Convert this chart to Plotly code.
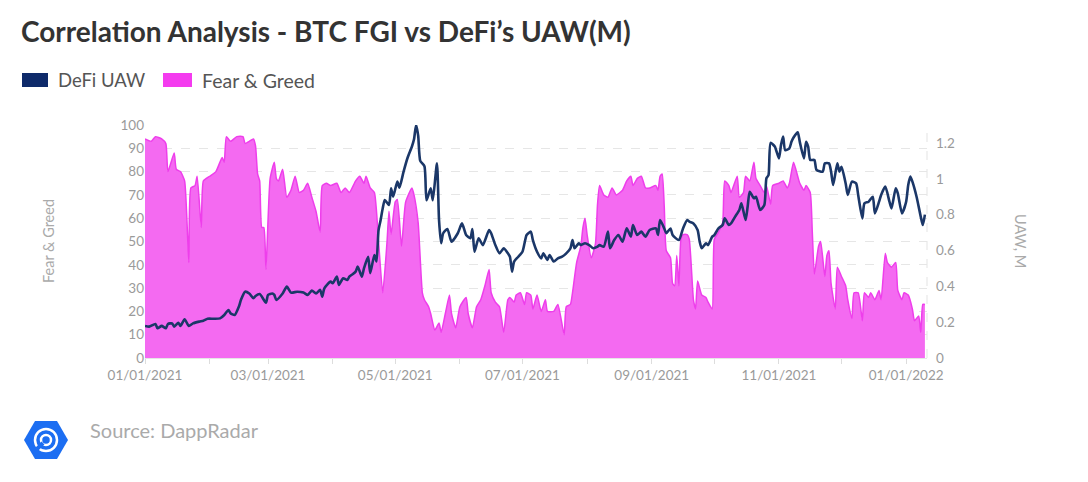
import pandas as pd
import plotly.graph_objects as go

BASE_DATE = "2021-01-01"

# Fear & Greed index: days since 2021-01-01 and value
fg_days = [0, 3, 5, 8, 10, 11, 14, 15, 17, 19, 21, 22, 24, 25, 27, 28, 31, 34, 37, 38, 39, 41, 44, 47, 48, 50,
           52, 53, 54, 55, 56, 57, 58, 60, 62, 63, 64, 66, 68, 70, 72, 74, 76, 78, 80, 82, 84, 85, 87, 89, 92,
           94, 96, 98, 101, 103, 105, 106, 108, 110, 112, 114, 116, 117, 118, 120, 121, 123, 125, 128, 129,
           131, 133, 134, 136, 137, 139, 141, 142, 144, 146, 147, 149, 151, 154, 155, 157, 159, 161, 163,
           165, 166, 168, 170, 172, 174, 175, 177, 178, 180, 182, 183, 185, 186, 188, 190, 192, 193, 196,
           198, 201, 202, 204, 205, 207, 209, 210, 211, 212, 214, 216, 217, 218, 220, 222, 224, 226, 229,
           231, 233, 234, 236, 238, 240, 242, 245, 246, 247, 248, 249, 250, 252, 253, 254, 255, 256, 257,
           258, 260, 261, 263, 264, 265, 267, 269, 270, 272, 273, 275, 277, 278, 280, 281, 284, 285, 287,
           288, 290, 292, 293, 295, 297, 298, 300, 301, 304, 306, 308, 309, 311, 313, 314, 316, 317, 319,
           320, 321, 323, 324, 326, 327, 328, 329, 331, 332, 334, 336, 337, 339, 340, 342, 344, 345, 347,
           348, 350, 352, 353, 355, 356, 358, 360, 361, 363, 364, 366, 368, 369, 371, 372, 373, 374]
fg_values = [94, 93, 95, 94, 92, 80, 88, 81, 80, 76, 41, 73, 74, 78, 56, 76, 78, 80, 86, 84, 95, 93, 95, 95, 92, 93,
             94, 91, 79, 76, 56, 56, 38, 77, 84, 77, 76, 81, 69, 72, 78, 71, 72, 75, 69, 63, 54, 74, 75, 74, 75,
             71, 73, 71, 76, 78, 75, 78, 73, 71, 50, 28, 49, 63, 53, 67, 68, 48, 67, 73, 70,
             58, 28, 25, 22, 19, 12, 15, 11, 19, 27, 19, 13, 22, 26, 19, 13, 22, 25, 31,
             38, 28, 24, 22, 11, 25, 26, 24, 27, 28, 23, 28, 27, 21, 27, 20, 25, 20, 20,
             23, 10, 22, 23, 28, 41, 48, 56, 60, 53, 43, 49, 66, 74, 70, 69, 73, 70, 72,
             76, 78, 74, 77, 78, 73, 73, 74, 72, 78, 79, 65, 46, 43, 32, 31, 44, 31, 51,
             53, 53, 51, 25, 21, 33, 27, 26, 24, 21, 51, 54, 58, 76, 74, 71, 78, 69, 71,
             78, 76, 84, 77, 74, 71, 74, 66, 74, 75, 76, 73, 75, 84, 78, 75, 72, 74, 71,
             54, 36, 48, 50, 35, 44, 46, 32, 21, 39, 35, 31, 25, 17, 28, 28, 16, 28, 26,
             28, 25, 29, 25, 45, 41, 39, 41, 29, 25, 28, 27, 21, 16, 18, 11, 23, 23]

# DeFi unique active wallets (millions): days since 2021-01-01 and value
uaw_days = [0, 2, 5, 6, 8, 10, 11, 13, 14, 16, 17, 19, 21, 23, 26, 28, 30, 33, 36, 38, 40, 41, 43, 45, 46, 48,
            50, 52, 53, 55, 58, 59, 61, 62, 63, 66, 68, 70, 73, 76, 78, 80, 82, 84, 85, 86, 89, 90, 92, 93,
            95, 97, 98, 99, 101, 102, 104, 105, 107, 108, 110, 111, 112, 113, 114, 115, 117, 118, 119, 121,
            122, 124, 126, 128, 129, 130, 131, 132, 134, 135, 137, 138, 140, 141, 142, 143, 145, 147, 150,
            152, 154, 156, 157, 158, 160, 162, 165, 166, 168, 170, 172, 174, 175, 176, 177, 179, 181, 182,
            183, 185, 186, 188, 190, 191, 193, 194, 196, 198, 200, 202, 204, 205, 206, 208, 209, 211, 213,
            215, 217, 218, 220, 222, 223, 225, 227, 229, 231, 233, 234, 236, 238, 240, 242, 245, 246, 247,
            249, 250, 252, 253, 256, 258, 260, 261, 263, 265, 266, 267, 269, 270, 272, 273, 275, 277, 278,
            280, 281, 283, 285, 286, 288, 289, 290, 292, 293, 295, 297, 298, 299, 300, 302, 304, 305, 306,
            307, 309, 310, 311, 313, 314, 316, 317, 318, 319, 321, 322, 325, 326, 328, 329, 330, 332, 333,
            334, 336, 337, 339, 341, 342, 344, 345, 347, 349, 350, 352, 353, 355, 357, 358, 360, 361, 363,
            365, 366, 367, 368, 370, 372, 373, 374]
uaw_values = [0.179, 0.175, 0.190, 0.166, 0.179, 0.166, 0.190, 0.193, 0.175, 0.197, 0.179, 0.216, 0.179, 0.193,
              0.203, 0.208, 0.219, 0.219, 0.221, 0.240, 0.268, 0.250, 0.240, 0.286, 0.324, 0.370,
              0.360, 0.333, 0.346, 0.357, 0.309, 0.352, 0.360, 0.352, 0.324, 0.360, 0.398, 0.365, 0.370, 0.365,
              0.352, 0.376, 0.360, 0.380, 0.342, 0.389, 0.426, 0.417, 0.454, 0.408,
              0.445, 0.435, 0.454, 0.463, 0.482, 0.510, 0.454, 0.500, 0.565, 0.473, 0.575, 0.538, 0.714, 0.770,
              0.835, 0.882, 0.854, 0.947, 0.900, 0.984,
              0.950, 1.040, 1.120, 1.180, 1.220, 1.300, 1.240, 1.100, 1.070, 0.880, 0.947, 0.880, 1.086, 0.770,
              0.640, 0.696, 0.720, 0.649, 0.696,
              0.751, 0.686, 0.668, 0.720, 0.593, 0.668, 0.630, 0.714, 0.696, 0.630, 0.584, 0.612, 0.584, 0.565,
              0.482, 0.538, 0.565, 0.593, 0.640,
              0.686, 0.705, 0.658, 0.593, 0.556, 0.584, 0.547, 0.575, 0.538, 0.556, 0.565, 0.584, 0.612, 0.658,
              0.612, 0.640, 0.630, 0.640, 0.630,
              0.612, 0.621, 0.630, 0.621, 0.705, 0.612, 0.658, 0.686, 0.649, 0.723, 0.677, 0.742, 0.686, 0.705,
              0.677, 0.714, 0.723, 0.686, 0.770,
              0.723, 0.696, 0.723, 0.686, 0.658, 0.723, 0.770, 0.761, 0.751, 0.714, 0.649, 0.612, 0.640, 0.630,
              0.677, 0.686, 0.723, 0.742, 0.779,
              0.742, 0.751, 0.789, 0.826, 0.863, 0.770, 0.845, 0.928, 0.891, 0.900, 0.826, 0.854, 1.003, 1.020,
              1.200, 1.180, 1.114, 1.190, 1.235,
              1.160, 1.170, 1.206, 1.230, 1.260, 1.206, 1.114, 1.206, 1.180, 1.105, 1.105, 1.050, 1.040, 1.086,
              1.086, 1.040, 0.965, 1.086, 1.040,
              1.067, 0.974, 0.910, 0.984, 0.974, 0.910, 0.779, 0.863, 0.872, 0.900, 0.807, 0.872, 0.910, 0.956,
              0.872, 0.835, 0.947, 0.919, 0.807,
              0.872, 0.965, 1.012, 0.984, 0.900, 0.789, 0.742, 0.800]

x_tick_format = "%m/%d/%Y"
left_ticks = list(range(0, 101, 10))
right_ticks = [0, 0.2, 0.4, 0.6, 0.8, 1, 1.2]

assert len(fg_days) == len(fg_values)
assert len(uaw_days) == len(uaw_values)

base = pd.Timestamp(BASE_DATE)
fg_dates = base + pd.to_timedelta(fg_days, unit="D")
uaw_dates = base + pd.to_timedelta(uaw_days, unit="D")

# page body has an 8px offset; positions below are screen pixels, converted to figure pixels
OFF = 8
W, H = 1088, 482
PLOT_L, PLOT_R, PLOT_T, PLOT_B = 145, 927, 125, 358  # screen pixels
L = PLOT_L - OFF
T = PLOT_T - OFF
R = W - (PLOT_R - OFF)
B = H - (PLOT_B - OFF)
PW, PH = PLOT_R - PLOT_L, PLOT_B - PLOT_T


def px(x):
    return (x - PLOT_L) / PW


def py(y):
    return (PLOT_B - y) / PH


FONT = "Lato"
PINK_FILL = "#F46AF1"
PINK_LINE = "#EE3EEB"
NAVY = "#1B3768"

fig = go.Figure()
fig.add_trace(go.Scatter(
    x=fg_dates, y=fg_values, name="Fear & Greed", mode="lines",
    line=dict(color=PINK_LINE, width=1.5, shape="spline", smoothing=0.5),
    fill="tozeroy", fillcolor=PINK_FILL, showlegend=False, yaxis="y",
))
fig.add_trace(go.Scatter(
    x=uaw_dates, y=uaw_values, name="DeFi UAW", mode="lines",
    line=dict(color=NAVY, width=2.6, shape="spline", smoothing=0.6),
    showlegend=False, yaxis="y2",
))

shapes = []
annotations = []

# manual legend
shapes.append(dict(type="rect", xref="paper", yref="paper", x0=px(22), x1=px(48), y0=py(87), y1=py(73),
                   fillcolor="#0E2A6A", line=dict(width=0), layer="above"))
annotations.append(dict(xref="paper", yref="paper", x=px(56), y=py(80), text="DeFi UAW", showarrow=False,
                        xanchor="left", yanchor="middle", font=dict(family=FONT, size=18.5, color="#555555")))
shapes.append(dict(type="rect", xref="paper", yref="paper", x0=px(163), x1=px(192), y0=py(87), y1=py(73),
                   fillcolor="#F43BEF", line=dict(width=0), layer="above"))
annotations.append(dict(xref="paper", yref="paper", x=px(200), y=py(80), text="Fear & Greed", showarrow=False,
                        xanchor="left", yanchor="middle", font=dict(family=FONT, size=19.5, color="#555555")))

# axis titles
annotations.append(dict(xref="paper", yref="paper", x=px(48), y=py(241), text="Fear & Greed", showarrow=False,
                        textangle=-90, xanchor="center", yanchor="middle",
                        font=dict(family=FONT, size=14.5, color="#AAAAAA")))
annotations.append(dict(xref="paper", yref="paper", x=px(1021), y=py(241), text="UAW, M", showarrow=False,
                        textangle=90, xanchor="center", yanchor="middle",
                        font=dict(family=FONT, size=14.5, color="#AAAAAA")))

# source
annotations.append(dict(xref="paper", yref="paper", x=px(88), y=py(430), text="Source: DappRadar", showarrow=False,
                        xanchor="left", yanchor="middle", font=dict(family=FONT, size=20, color="#AAAAAA")))

# logo hexagon
hexpts = [(24, 440), (35, 421), (57, 421), (68, 440), (57, 459), (35, 459)]
path = "M " + " L ".join(f"{px(a):.5f},{py(b):.5f}" for a, b in hexpts) + " Z"
shapes.append(dict(type="path", xref="paper", yref="paper", path=path, fillcolor="#1C6EF2",
                   line=dict(width=0), layer="above"))
shapes.append(dict(type="circle", xref="paper", yref="paper", x0=px(35), x1=px(57), y0=py(451), y1=py(429),
                   line=dict(color="white", width=2.5), fillcolor="rgba(0,0,0,0)", layer="above"))
shapes.append(dict(type="circle", xref="paper", yref="paper", x0=px(41), x1=px(51), y0=py(445), y1=py(435),
                   line=dict(color="white", width=2.5), fillcolor="rgba(0,0,0,0)", layer="above"))
shapes.append(dict(type="line", xref="paper", yref="paper", x0=px(37), x1=px(43), y0=py(449), y1=py(443),
                   line=dict(color="#1C6EF2", width=4), layer="above"))

# right dashed border
shapes.append(dict(type="line", xref="paper", yref="paper", x0=1, x1=1, y0=0, y1=1,
                   line=dict(color="#E3E3E3", width=1, dash="dash"), layer="below"))

fig.update_layout(
    width=W, height=H,
    margin=dict(l=L, r=R, t=T, b=B, autoexpand=False),
    paper_bgcolor="white", plot_bgcolor="white",
    font=dict(family=FONT, color="#999999"),
    title=dict(text="<b>Correlation Analysis - BTC FGI vs DeFi’s UAW(M)</b>", xref="container", yref="container",
               x=(21 - OFF) / W, y=1 - (32 - OFF) / H, xanchor="left", yanchor="middle",
               font=dict(family=FONT, size=28, color="#333333")),
    xaxis=dict(
        range=[base, base + pd.Timedelta(days=375)], type="date",
        tickformat=x_tick_format, dtick="M2", tick0=BASE_DATE,
        ticks="outside", ticklen=5, tickcolor="#DDDDDD",
        minor=dict(dtick="M1", ticks="outside", ticklen=5, tickcolor="#DDDDDD", showgrid=False),
        showgrid=False, showline=True, linecolor="#E6E6E6", linewidth=1,
        tickfont=dict(family=FONT, size=13.5, color="#9A9A9A"), automargin=False,
    ),
    yaxis=dict(
        range=[0, 100], tickvals=left_ticks, showgrid=True, gridcolor="#E6E6E6", griddash="dash",
        zeroline=False, showline=False, tickfont=dict(family=FONT, size=13.5, color="#9A9A9A"),
        automargin=False,
    ),
    yaxis2=dict(
        range=[0, 1.3], tickvals=right_ticks, overlaying="y", side="right", showgrid=False,
        zeroline=False, showline=False, tickfont=dict(family=FONT, size=13.5, color="#9A9A9A"),
        ticklabelstandoff=8, automargin=False,
    ),
    shapes=shapes, annotations=annotations,
)

fig.write_html("out.html")
